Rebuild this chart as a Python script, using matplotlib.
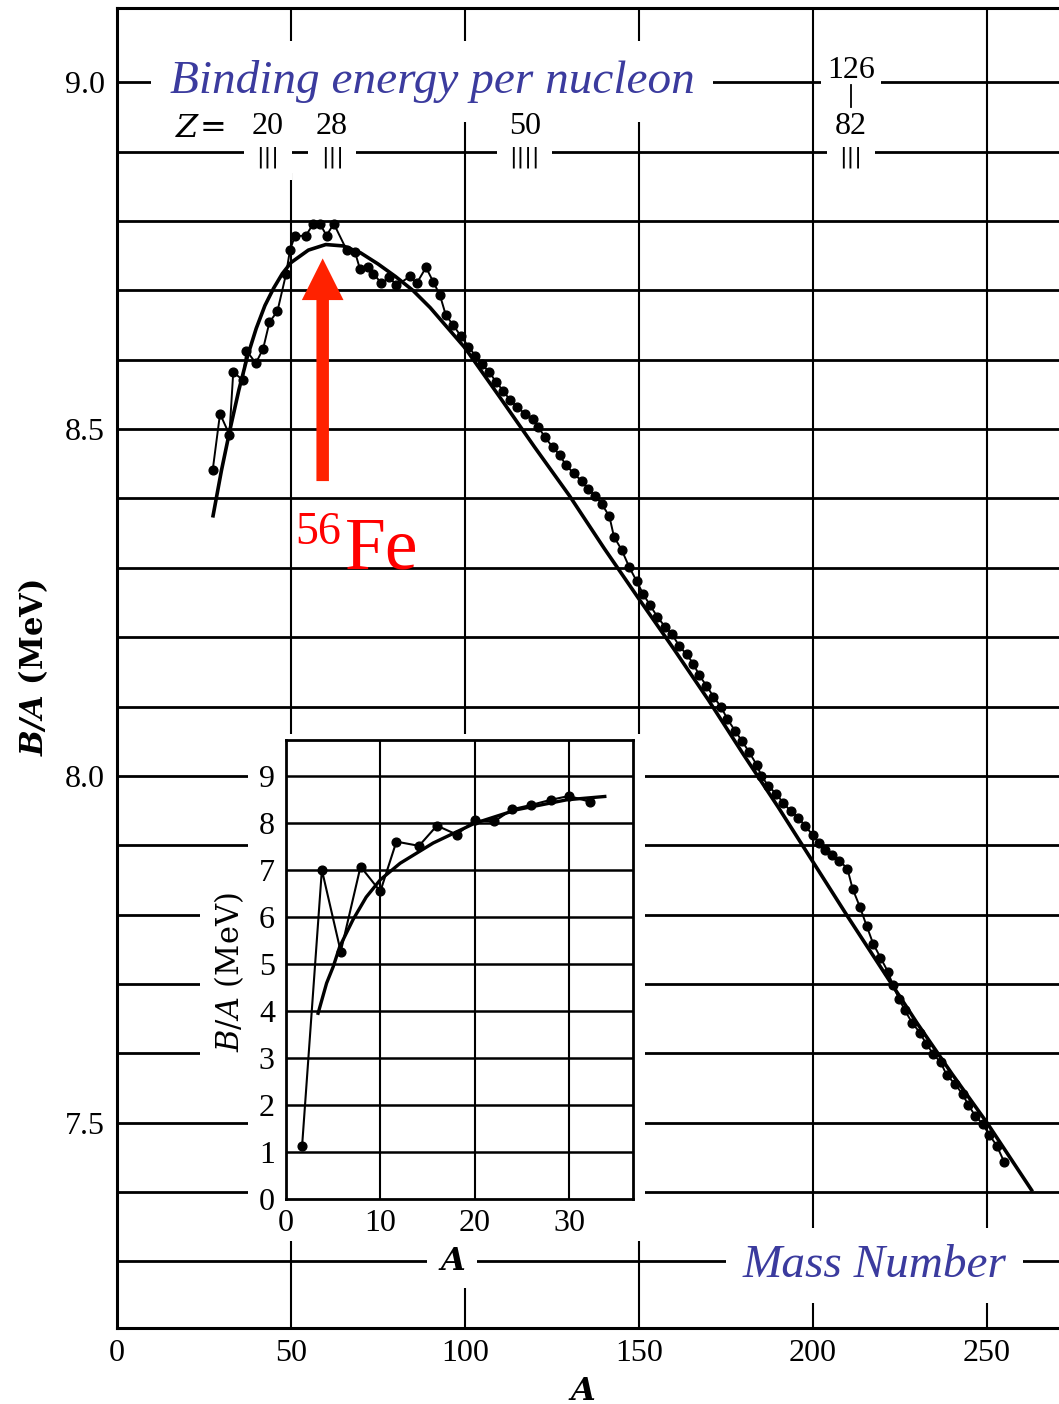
import numpy as np
import matplotlib
matplotlib.use("Agg")
import matplotlib.pyplot as plt
from matplotlib.patches import Rectangle

mass_a = [27.5, 29.6, 32.3, 33.4, 36.1, 37.2, 39.9, 42.0, 43.8, 46.1,
          48.6, 49.7, 51.1, 54.3, 56.4, 58.3, 60.2, 62.3, 66.0, 68.4,
          69.8, 72.2, 73.7, 76.0, 78.3, 80.3, 84.2, 86.1, 88.8, 90.9,
          92.8, 94.5, 96.6, 98.8, 101.0, 102.9, 104.8, 107.0, 108.9, 111.0,
          112.9, 115.0, 117.2, 119.4, 121.1, 123.0, 125.2, 127.3, 129.0, 131.3,
          133.5, 135.4, 137.4, 139.3, 141.5, 142.8, 145.0, 147.2, 149.3, 151.2,
          153.2, 155.3, 157.5, 159.4, 161.6, 163.7, 165.6, 167.3, 169.4, 171.4,
          173.5, 175.4, 177.6, 179.5, 181.7, 183.8, 185.2, 187.1, 189.4, 191.5,
          193.6, 195.8, 197.7, 199.9, 201.8, 203.4, 205.4, 207.6, 209.9, 211.4,
          213.5, 215.4, 217.3, 219.4, 221.5, 223.0, 224.8, 226.4, 228.5, 230.7,
          232.5, 234.6, 236.7, 238.4, 240.8, 243.0, 244.6, 246.6, 248.8, 250.6,
          252.8, 254.9]
binding = [8.441, 8.522, 8.492, 8.582, 8.571, 8.613, 8.595, 8.616, 8.654, 8.670,
           8.724, 8.758, 8.778, 8.779, 8.796, 8.796, 8.779, 8.796, 8.758, 8.755,
           8.731, 8.734, 8.724, 8.710, 8.719, 8.707, 8.720, 8.710, 8.733, 8.712,
           8.693, 8.664, 8.650, 8.634, 8.619, 8.606, 8.594, 8.582, 8.568, 8.555,
           8.542, 8.532, 8.522, 8.515, 8.503, 8.488, 8.474, 8.462, 8.448, 8.436,
           8.425, 8.413, 8.404, 8.392, 8.374, 8.345, 8.326, 8.301, 8.281, 8.262,
           8.246, 8.229, 8.215, 8.205, 8.187, 8.175, 8.162, 8.145, 8.130, 8.114,
           8.100, 8.082, 8.065, 8.051, 8.034, 8.016, 8.000, 7.986, 7.974, 7.961,
           7.949, 7.940, 7.928, 7.915, 7.903, 7.893, 7.886, 7.878, 7.866, 7.837,
           7.811, 7.784, 7.758, 7.738, 7.718, 7.698, 7.678, 7.662, 7.644, 7.630,
           7.614, 7.599, 7.587, 7.569, 7.556, 7.541, 7.526, 7.510, 7.498, 7.483,
           7.467, 7.444]

# smooth semi-empirical curve
fit_a = [27.6, 30.0, 32.5, 35.0, 37.5, 40.0, 42.5, 45.0, 47.5, 50.0,
         55.0, 60.0, 65.0, 70.0, 75.0, 80.0, 85.0, 90.0, 95.0, 100.0,
         110.0, 120.0, 130.0, 140.0, 150.0, 160.0, 170.0, 180.0, 190.0, 200.0,
         210.0, 220.0, 230.0, 240.0, 250.0, 262.8]
fit_b = [8.375, 8.440, 8.500, 8.556, 8.605, 8.645, 8.678, 8.703, 8.724, 8.740,
         8.758, 8.766, 8.764, 8.754, 8.738, 8.720, 8.700, 8.675, 8.646, 8.617,
         8.546, 8.474, 8.404, 8.328, 8.255, 8.183, 8.109, 8.031, 7.955, 7.876,
         7.797, 7.720, 7.643, 7.570, 7.500, 7.403]

# light nuclei (inset)
light_a = [1.7, 3.8, 5.8, 7.9, 10.0, 11.7, 14.1, 16.0, 18.1, 20.0,
           22.1, 24.0, 26.0, 28.1, 30.0, 32.2]
light_b = [1.12, 7.00, 5.26, 7.07, 6.54, 7.60, 7.51, 7.94, 7.75, 8.05,
           8.03, 8.29, 8.38, 8.49, 8.57, 8.45]
light_fit_a = [3.4, 4.3, 5.0, 5.7, 7.1, 8.5, 10.0, 12.1, 15.6, 20.0, 24.5, 29.8, 33.8]
light_fit_b = [3.95, 4.59, 4.94, 5.37, 5.94, 6.42, 6.79, 7.14, 7.57, 7.99, 8.28, 8.49, 8.56]

# magic numbers along the top
magic_z = ['20', '28', '50', '82']
magic_pos = [43.4, 61.8, 117.2, 210.9]
magic_bars = ['|||', '|||', '||||', '|||']

BLUE = '#3b3b9e'
SERIF = 'Liberation Serif'
plt.rcParams['mathtext.fontset'] = 'dejavuserif'

fig = plt.figure(figsize=(10.59, 14.04), dpi=100)

# ---- main panel ----
ax = fig.add_axes([0.1105, 0.0541, 0.8895, 0.9402])
ax.set_xlim(0, 270.7)
ax.set_ylim(7.204, 9.107)

for y in np.arange(7.3, 9.05, 0.1):
    ax.axhline(y, color='black', lw=2.0, zorder=1)
for x in [50, 100, 150, 200, 250]:
    ax.axvline(x, color='black', lw=1.5, zorder=0.6)

# white gaps in the grid
ax.add_patch(Rectangle((37.6, 7.33), 114.1, 0.731, facecolor='white',
                       edgecolor='none', zorder=2))
ax.add_patch(Rectangle((46, 8.869), 8, 0.131, facecolor='white',
                       edgecolor='none', zorder=0.8))

ax.plot(fit_a, fit_b, color='black', lw=2.6, zorder=3)
ax.plot(mass_a, binding, '-o', color='black', lw=1.4, ms=6.3, zorder=4)

for s in ['left', 'bottom', 'top']:
    ax.spines[s].set_linewidth(2.2)
ax.spines['right'].set_visible(False)

ax.set_yticks([7.5, 8.0, 8.5, 9.0])
ax.set_yticklabels(['7.5', '8.0', '8.5', '9.0'], fontfamily=SERIF, fontsize=23)
ax.set_xticks([0, 50, 100, 150, 200, 250])
ax.set_xticklabels(['0', '50', '100', '150', '200', '250'], fontfamily=SERIF, fontsize=23)
ax.tick_params(axis='y', length=0, pad=9)
ax.tick_params(axis='x', length=0, pad=8)

ax.set_ylabel(r'$\mathbfit{B/A}$ (MeV)', fontsize=22, fontweight='bold', family='DejaVu Serif')
ax.yaxis.set_label_coords(-0.071, 0.50)
ax.set_xlabel(r'$\mathbfit{A}$', fontsize=23)
ax.xaxis.set_label_coords(0.4936, -0.036)

wbox = dict(boxstyle='square,pad=0.4', facecolor='white', edgecolor='none')
ax.text(90.5, 8.984, 'Binding energy per nucleon', fontsize=34, style='italic',
        family=SERIF, color=BLUE, ha='center', va='baseline', bbox=wbox, zorder=6)
ax.text(217.8, 7.278, 'Mass Number', fontsize=34, style='italic',
        family=SERIF, color=BLUE, ha='center', va='baseline',
        bbox=dict(boxstyle='square,pad=0.35', facecolor='white', edgecolor='none'), zorder=6)

ax.text(23.9, 8.934, r'$Z\!=$', fontsize=23, ha='center', va='center', zorder=6)
for lab, pos, bars in zip(magic_z, magic_pos, magic_bars):
    ax.text(pos, 8.936, lab, fontsize=23, family=SERIF, ha='center', va='center',
            bbox=dict(boxstyle='square,pad=0.1', facecolor='white', edgecolor='none'), zorder=7)
    ax.text(pos, 8.892, bars, fontsize=16, family='DejaVu Sans', ha='center', va='center',
            bbox=dict(boxstyle='square,pad=0.55', facecolor='white', edgecolor='none'), zorder=6)
ax.text(210.9, 9.017, '126', fontsize=23, family=SERIF, ha='center', va='center',
        bbox=dict(boxstyle='square,pad=0.2', facecolor='white', edgecolor='none'), zorder=7)
ax.plot([210.9, 210.9], [8.964, 8.996], color='black', lw=1.3, zorder=7)

ax.text(96.3, 7.3, r'$\mathbfit{A}$', fontsize=23, ha='center', va='center',
        bbox=dict(boxstyle='square,pad=0.35', facecolor='white', edgecolor='none'), zorder=6)

# iron-56 marker
ax.annotate('', xy=(59.1, 8.746), xytext=(59.1, 8.425),
            arrowprops=dict(arrowstyle='simple,head_length=1.0,head_width=1.0,tail_width=0.3',
                            mutation_scale=30, color='#ff2200', lw=0,
                            shrinkA=0, shrinkB=0), zorder=5)
ax.text(51.1, 8.335, '56', fontsize=33, family=SERIF, color='red', va='baseline', zorder=6)
ax.text(65.5, 8.299, 'Fe', fontsize=53, family=SERIF, color='red', va='baseline', zorder=6)

# ---- inset: light nuclei ----
ax_in = fig.add_axes([0.2701, 0.1460, 0.3277, 0.3269])
ax_in.set_facecolor('white')
ax_in.set_xlim(0, 36.8)
ax_in.set_ylim(0, 9.76)
for y in range(1, 10):
    ax_in.axhline(y, color='black', lw=1.8, zorder=1)
for x in [10, 20, 30]:
    ax_in.axvline(x, color='black', lw=1.5, zorder=1)
ax_in.plot(light_fit_a, light_fit_b, color='black', lw=2.4, zorder=3)
ax_in.plot(light_a, light_b, '-o', color='black', lw=1.5, ms=6.3, zorder=4)
for s in ax_in.spines.values():
    s.set_linewidth(2.0)
ax_in.set_xticks([0, 10, 20, 30])
ax_in.set_xticklabels(['0', '10', '20', '30'], fontfamily=SERIF, fontsize=23)
ax_in.set_yticks(range(10))
ax_in.set_yticklabels([str(i) for i in range(10)], fontfamily=SERIF, fontsize=23)
ax_in.tick_params(axis='y', length=0, pad=8)
ax_in.tick_params(axis='x', length=0, pad=7)
ax_in.set_ylabel(r'$\mathit{B/A}$ (MeV)', fontsize=22, family='DejaVu Serif')
ax_in.yaxis.set_label_coords(-0.115, 0.495)
ax_in.yaxis.label.set_bbox(dict(boxstyle='square,pad=0.4', facecolor='white', edgecolor='none'))

fig.savefig('out.png', dpi=100)
